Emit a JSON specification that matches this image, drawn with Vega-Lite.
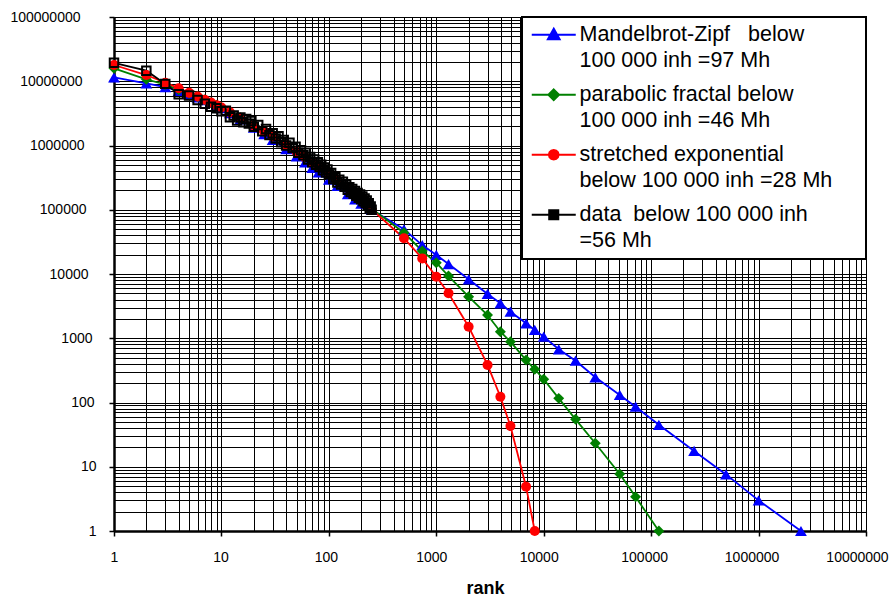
{
  "$schema": "https://vega.github.io/schema/vega-lite/v6.json",
  "width": 752,
  "height": 514,
  "autosize": {"type": "none"},
  "padding": {"left": 114, "top": 17, "right": 26, "bottom": 68},
  "background": "white",
  "config": {
    "view": {"stroke": null},
    "font": "Arial, Liberation Sans, sans-serif"
  },
  "data": {
    "values": [
      {"s":"mz","r":1,"v":11500000},{"s":"mz","r":2,"v":9300000},{"s":"mz","r":3,"v":8100000},{"s":"mz","r":4,"v":7100000},{"s":"mz","r":5,"v":6300000},{"s":"mz","r":6,"v":5600000},{"s":"mz","r":7,"v":5100000},{"s":"mz","r":8,"v":4600000},{"s":"mz","r":9,"v":4150000},{"s":"mz","r":10,"v":3800000},{"s":"mz","r":12,"v":3200000},{"s":"mz","r":15,"v":2550000},{"s":"mz","r":20,"v":1900000},{"s":"mz","r":25,"v":1500000},{"s":"mz","r":30,"v":1220000},{"s":"mz","r":40,"v":880000},{"s":"mz","r":50,"v":680000},{"s":"mz","r":60,"v":545000},{"s":"mz","r":70,"v":450000},{"s":"mz","r":80,"v":380000},{"s":"mz","r":100,"v":295000},{"s":"mz","r":120,"v":235000},{"s":"mz","r":150,"v":175000},{"s":"mz","r":175,"v":145000},{"s":"mz","r":200,"v":125000},{"s":"mz","r":250,"v":100000},
      {"s":"mz","r":500,"v":49600},{"s":"mz","r":740,"v":28200},{"s":"mz","r":1000,"v":19800},{"s":"mz","r":1300,"v":14300},{"s":"mz","r":2000,"v":8270},{"s":"mz","r":3000,"v":4890},{"s":"mz","r":3950,"v":3500},{"s":"mz","r":4900,"v":2590},{"s":"mz","r":6850,"v":1710},{"s":"mz","r":8250,"v":1345},{"s":"mz","r":10000,"v":1057},{"s":"mz","r":13800,"v":673},{"s":"mz","r":19800,"v":447},{"s":"mz","r":30200,"v":247},{"s":"mz","r":51000,"v":131},{"s":"mz","r":71600,"v":86},{"s":"mz","r":118000,"v":45},{"s":"mz","r":251000,"v":17.6},{"s":"mz","r":497000,"v":7.6},{"s":"mz","r":1000000,"v":3.0},{"s":"mz","r":2480000,"v":1},
      {"s":"pf","r":1,"v":15900000},{"s":"pf","r":2,"v":10700000},{"s":"pf","r":3,"v":8900000},{"s":"pf","r":4,"v":7400000},{"s":"pf","r":5,"v":6500000},{"s":"pf","r":6,"v":5750000},{"s":"pf","r":7,"v":5150000},{"s":"pf","r":8,"v":4650000},{"s":"pf","r":9,"v":4250000},{"s":"pf","r":10,"v":3900000},{"s":"pf","r":12,"v":3300000},{"s":"pf","r":15,"v":2700000},{"s":"pf","r":20,"v":2050000},{"s":"pf","r":25,"v":1650000},{"s":"pf","r":30,"v":1380000},{"s":"pf","r":40,"v":1020000},{"s":"pf","r":50,"v":800000},{"s":"pf","r":60,"v":650000},{"s":"pf","r":70,"v":545000},{"s":"pf","r":80,"v":465000},{"s":"pf","r":100,"v":355000},{"s":"pf","r":120,"v":285000},{"s":"pf","r":150,"v":215000},{"s":"pf","r":175,"v":176000},{"s":"pf","r":200,"v":147000},{"s":"pf","r":250,"v":104000},
      {"s":"pf","r":500,"v":43900},{"s":"pf","r":740,"v":22800},{"s":"pf","r":1000,"v":15000},{"s":"pf","r":1300,"v":9300},{"s":"pf","r":2000,"v":4430},{"s":"pf","r":3000,"v":2300},{"s":"pf","r":3950,"v":1265},{"s":"pf","r":4900,"v":884},{"s":"pf","r":6850,"v":458},{"s":"pf","r":8250,"v":329},{"s":"pf","r":10000,"v":230},{"s":"pf","r":13800,"v":116},{"s":"pf","r":19800,"v":54.7},{"s":"pf","r":30200,"v":23.2},{"s":"pf","r":51000,"v":7.7},{"s":"pf","r":71600,"v":3.4},{"s":"pf","r":118000,"v":1},
      {"s":"se","r":1,"v":17900000},{"s":"se","r":2,"v":12500000},{"s":"se","r":3,"v":9500000},{"s":"se","r":4,"v":7800000},{"s":"se","r":5,"v":6600000},{"s":"se","r":6,"v":5800000},{"s":"se","r":7,"v":5150000},{"s":"se","r":8,"v":4650000},{"s":"se","r":9,"v":4250000},{"s":"se","r":10,"v":3900000},{"s":"se","r":12,"v":3300000},{"s":"se","r":15,"v":2700000},{"s":"se","r":20,"v":2050000},{"s":"se","r":25,"v":1650000},{"s":"se","r":30,"v":1380000},{"s":"se","r":40,"v":1020000},{"s":"se","r":50,"v":800000},{"s":"se","r":60,"v":655000},{"s":"se","r":70,"v":550000},{"s":"se","r":80,"v":470000},{"s":"se","r":100,"v":360000},{"s":"se","r":120,"v":290000},{"s":"se","r":150,"v":218000},{"s":"se","r":175,"v":178000},{"s":"se","r":200,"v":148000},{"s":"se","r":250,"v":101000},
      {"s":"se","r":500,"v":36000},{"s":"se","r":740,"v":17500},{"s":"se","r":1000,"v":9080},{"s":"se","r":1300,"v":5010},{"s":"se","r":2000,"v":1510},{"s":"se","r":3000,"v":384},{"s":"se","r":3950,"v":123},{"s":"se","r":4900,"v":43},{"s":"se","r":6850,"v":4.9},{"s":"se","r":8250,"v":1},
      {"s":"d","r":1,"v":19400000},{"s":"d","r":2,"v":14600000},{"s":"d","r":3,"v":9100000},{"s":"d","r":4,"v":6300000},{"s":"d","r":5,"v":6000000},{"s":"d","r":6,"v":5100000},{"s":"d","r":7,"v":4450000},{"s":"d","r":8,"v":4000000},{"s":"d","r":9,"v":3800000},{"s":"d","r":10,"v":3400000},{"s":"d","r":11,"v":3480000},{"s":"d","r":12,"v":2750000},{"s":"d","r":13,"v":2940000},{"s":"d","r":14,"v":2440000},{"s":"d","r":15,"v":2730000},{"s":"d","r":16,"v":2310000},{"s":"d","r":17,"v":2590000},{"s":"d","r":18,"v":2190000},{"s":"d","r":19,"v":2410000},{"s":"d","r":20,"v":1950000},
      {"s":"d","r":22,"v":2090000},{"s":"d","r":24,"v":1670000},{"s":"d","r":26,"v":1800000},{"s":"d","r":28,"v":1450000},{"s":"d","r":30,"v":1550000},{"s":"d","r":32,"v":1280000},{"s":"d","r":34,"v":1390000},{"s":"d","r":36,"v":1120000},{"s":"d","r":38,"v":1220000},{"s":"d","r":40,"v":1000000},
      {"s":"d","r":43,"v":1100000},{"s":"d","r":46,"v":910000},{"s":"d","r":49,"v":960000},{"s":"d","r":52,"v":770000},{"s":"d","r":55,"v":845000},{"s":"d","r":58,"v":705000},{"s":"d","r":61,"v":770000},{"s":"d","r":64,"v":605000},{"s":"d","r":67,"v":665000},{"s":"d","r":70,"v":550000},{"s":"d","r":73,"v":605000},{"s":"d","r":76,"v":500000},{"s":"d","r":79,"v":550000},{"s":"d","r":82,"v":462000},{"s":"d","r":85,"v":503000},{"s":"d","r":88,"v":410000},{"s":"d","r":91,"v":455000},{"s":"d","r":94,"v":380000},{"s":"d","r":97,"v":423000},{"s":"d","r":100,"v":353000},
      {"s":"d","r":105,"v":375000},{"s":"d","r":110,"v":302000},{"s":"d","r":115,"v":321000},{"s":"d","r":120,"v":265000},{"s":"d","r":125,"v":294000},{"s":"d","r":130,"v":246000},{"s":"d","r":135,"v":273000},{"s":"d","r":140,"v":228000},{"s":"d","r":145,"v":248000},{"s":"d","r":150,"v":205000},{"s":"d","r":155,"v":225000},{"s":"d","r":160,"v":189000},{"s":"d","r":165,"v":210000},{"s":"d","r":170,"v":177000},{"s":"d","r":175,"v":196000},{"s":"d","r":180,"v":165000},{"s":"d","r":185,"v":183000},{"s":"d","r":190,"v":154000},{"s":"d","r":195,"v":172000},{"s":"d","r":200,"v":145000},
      {"s":"d","r":205,"v":161000},{"s":"d","r":210,"v":136000},{"s":"d","r":215,"v":150000},{"s":"d","r":220,"v":127000},{"s":"d","r":225,"v":139000},{"s":"d","r":230,"v":117000},{"s":"d","r":235,"v":126000},{"s":"d","r":240,"v":107000},{"s":"d","r":245,"v":112000},{"s":"d","r":250,"v":100000}
    ]
  },
  "encoding": {
    "x": {
      "field": "r", "type": "quantitative",
      "scale": {"type": "log", "domain": [1, 10000000], "nice": false},
      "axis": {
        "title": "rank", "titleFontSize": 18, "titleFontWeight": "bold", "titleColor": "black", "titlePadding": 15, "titleX": 371,
        "labelFontSize": 14, "labelColor": "black", "labelPadding": 14, "labelFlush": false, "labelOverlap": false,
        "labelOffset": {"condition": [
          {"test": "datum.value === 10", "value": -1},
          {"test": "datum.value === 100", "value": -3},
          {"test": "datum.value === 1000", "value": -5},
          {"test": "datum.value === 10000", "value": -5},
          {"test": "datum.value === 100000", "value": -7},
          {"test": "datum.value === 1000000", "value": -7},
          {"test": "datum.value === 10000000", "value": -9}
        ], "value": 0},
        "tickSize": 5, "tickColor": "black", "tickWidth": 1.5,
        "tickOpacity": {"condition": {"test": "indexof([1,10,100,1000,10000,100000,1000000,10000000], datum.value) >= 0", "value": 1}, "value": 0},
        "domainColor": "black", "domainWidth": 2.5,
        "grid": true, "gridColor": "black", "gridWidth": 1, "gridOpacity": 1,
        "values": [1,2,3,4,5,6,7,8,9,10,20,30,40,50,60,70,80,90,100,200,300,400,500,600,700,800,900,1000,2000,3000,4000,5000,6000,7000,8000,9000,10000,20000,30000,40000,50000,60000,70000,80000,90000,100000,200000,300000,400000,500000,600000,700000,800000,900000,1000000,2000000,3000000,4000000,5000000,6000000,7000000,8000000,9000000,10000000],
        "labelExpr": "indexof([1,10,100,1000,10000,100000,1000000,10000000], datum.value) >= 0 ? format(datum.value, 'd') : ''"
      }
    },
    "y": {
      "field": "v", "type": "quantitative",
      "scale": {"type": "log", "domain": [1, 100000000], "nice": false},
      "axis": {
        "title": null,
        "labelFontSize": 14, "labelColor": "black", "labelAlign": "right", "labelBaseline": "middle", "labelOverlap": false, "labelFlush": false,
        "labelPadding": {"condition": [
          {"test": "datum.value === 100000000", "value": 29},
          {"test": "datum.value === 10000000", "value": 27},
          {"test": "datum.value === 1000000", "value": 25},
          {"test": "datum.value === 100000", "value": 23},
          {"test": "datum.value === 10000", "value": 21},
          {"test": "datum.value === 1000", "value": 17},
          {"test": "datum.value === 100", "value": 15},
          {"test": "datum.value === 10", "value": 13}
        ], "value": 13},
        "tickSize": 5, "tickColor": "black", "tickWidth": 1.5,
        "tickOpacity": {"condition": {"test": "indexof([1,10,100,1000,10000,100000,1000000,10000000,100000000], datum.value) >= 0", "value": 1}, "value": 0},
        "domainColor": "black", "domainWidth": 2.5,
        "grid": true, "gridColor": "black", "gridWidth": 1, "gridOpacity": 1,
        "values": [1,2,3,4,5,6,7,8,9,10,20,30,40,50,60,70,80,90,100,200,300,400,500,600,700,800,900,1000,2000,3000,4000,5000,6000,7000,8000,9000,10000,20000,30000,40000,50000,60000,70000,80000,90000,100000,200000,300000,400000,500000,600000,700000,800000,900000,1000000,2000000,3000000,4000000,5000000,6000000,7000000,8000000,9000000,10000000,20000000,30000000,40000000,50000000,60000000,70000000,80000000,90000000,100000000],
        "labelExpr": "indexof([1,10,100,1000,10000,100000,1000000,10000000,100000000], datum.value) >= 0 ? format(datum.value, 'd') : ''"
      }
    },
    "color": {
      "field": "s", "type": "nominal",
      "scale": {"domain": ["mz", "pf", "se", "d"], "range": ["#0000ff", "#008000", "#ff0000", "#000000"]},
      "legend": {
        "title": "i", "titleOrient": "right", "titleColor": "white", "titleFontSize": 10, "titlePadding": 24,
        "orient": "none", "legendX": 408, "legendY": 0,
        "fillColor": "white", "strokeColor": "black", "padding": 7,
        "labelFontSize": 21.5, "labelColor": "black", "labelLimit": 500, "labelOffset": 29,
        "symbolSize": 2704, "rowPadding": 11,
        "labelExpr": "datum.value === 'mz' ? ['Mandelbrot-Zipf\u00a0\u00a0 below', '100 000 inh =97 Mh'] : datum.value === 'pf' ? ['parabolic fractal below', '100 000 inh =46 Mh'] : datum.value === 'se' ? ['stretched exponential', 'below 100 000 inh =28 Mh'] : ['data\u00a0 below 100 000 inh', '=56 Mh']",
        "encode": {
          "symbols": {"update": {
            "shape": {"signal": "datum.value === 'mz' ? 'M-0.308,0H1.385M0.538,-0.24L0.77,0.18L0.306,0.18Z' : datum.value === 'pf' ? 'M-0.308,0H1.385M0.538,-0.21L0.748,0L0.538,0.21L0.328,0Z' : datum.value === 'se' ? 'M-0.308,0H1.385M0.728,0L0.703,0.095L0.633,0.165L0.538,0.19L0.443,0.165L0.373,0.095L0.348,0L0.373,-0.095L0.443,-0.165L0.538,-0.19L0.633,-0.165L0.703,-0.095Z' : 'M-0.308,0H0.368M0.708,0H1.385M0.368,-0.17H0.708V0.17H0.368Z'"},
            "size": {"value": 2704},
            "fill": {"signal": "datum.value === 'mz' ? '#0000ff' : datum.value === 'pf' ? '#008000' : datum.value === 'se' ? '#ff0000' : 'transparent'"},
            "stroke": {"signal": "datum.value === 'mz' ? '#0000ff' : datum.value === 'pf' ? '#008000' : datum.value === 'se' ? '#ff0000' : '#000000'"},
            "strokeWidth": {"signal": "datum.value === 'd' ? 2.2 : 1.8"},
            "opacity": {"value": 1}
          }},
          "labels": {"update": {"lineHeight": {"value": 26}}},
          "legend": {"update": {"strokeWidth": {"value": 2}}}
        }
      }
    }
  },
  "layer": [
    {
      "mark": {"type": "line", "strokeWidth": 1.8}
    },
    {
      "transform": [{"filter": "datum.s !== 'd'"}],
      "mark": {"type": "point", "filled": true, "opacity": 1},
      "encoding": {
        "shape": {"field": "s", "type": "nominal", "scale": {"domain": ["mz", "pf", "se"], "range": ["triangle-up", "diamond", "circle"]}, "legend": null},
        "size": {"field": "s", "type": "nominal", "scale": {"domain": ["mz", "pf", "se"], "range": [140, 100, 100]}, "legend": null}
      }
    },
    {
      "transform": [{"filter": "datum.s === 'd'"}],
      "mark": {"type": "point", "shape": "square", "filled": false, "opacity": 1, "size": 72, "strokeWidth": 2}
    }
  ]
}
